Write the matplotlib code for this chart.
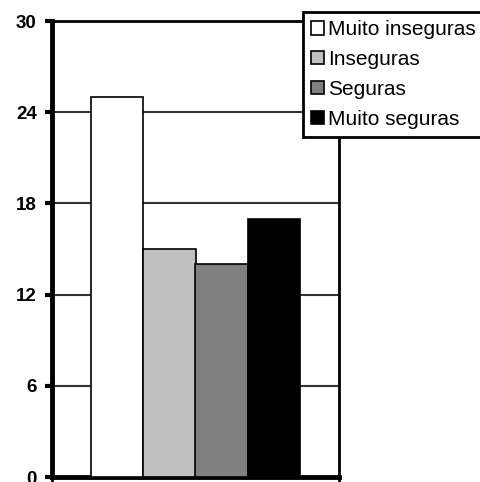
import matplotlib
matplotlib.use("Agg")
import matplotlib.pyplot as plt
from matplotlib.patches import Patch

plt.rcParams['font.family'] = ['Liberation Sans', 'DejaVu Sans']

categories = ["Muito inseguras", "Inseguras", "Seguras", "Muito seguras"]
values = [25, 15, 14, 17]
colors = ["#ffffff", "#c0c0c0", "#808080", "#000000"]
yticks = [0, 6, 12, 18, 24, 30]

fig = plt.figure(figsize=(4.81, 4.82), dpi=100)
ax = fig.add_axes([52/481, 1-477/482, 287/481, 456/482])

x = list(range(len(categories)))
ax.bar(x, values, width=1.0, color=colors, edgecolor="#000000", linewidth=1.2, zorder=3)
ax.set_xlim(-1.25, 4.25)
ax.set_ylim(0, 30)
ax.set_yticks(yticks)
ax.set_yticklabels([str(t) for t in yticks], fontsize=13.5, fontweight='bold')
ax.set_xticks([-1.25, 4.25])
ax.set_xticklabels([])
for t in yticks[1:-1]:
    ax.axhline(t, color="#333333", linewidth=1.5, zorder=1)

ax.spines['left'].set_linewidth(3.5)
ax.spines['bottom'].set_linewidth(3.5)
ax.spines['top'].set_linewidth(2)
ax.spines['right'].set_linewidth(2)
ax.tick_params(axis='y', length=5, width=3, pad=6)
ax.tick_params(axis='x', length=5, width=2)

handles = [Patch(facecolor=c, edgecolor="#000000", linewidth=1.2) for c in colors]
leg = fig.legend(handles, categories, loc='upper left', bbox_to_anchor=(303/481, 1-12/482),
                 bbox_transform=fig.transFigure, fontsize=15, frameon=True, fancybox=False,
                 borderaxespad=0, borderpad=0.4, handlelength=0.6, handleheight=0.6,
                 handletextpad=0.2, labelspacing=0.52)
leg.get_frame().set_edgecolor("#000000")
leg.get_frame().set_linewidth(2)
leg.get_frame().set_alpha(1)

fig.savefig("out.png", dpi=100)
